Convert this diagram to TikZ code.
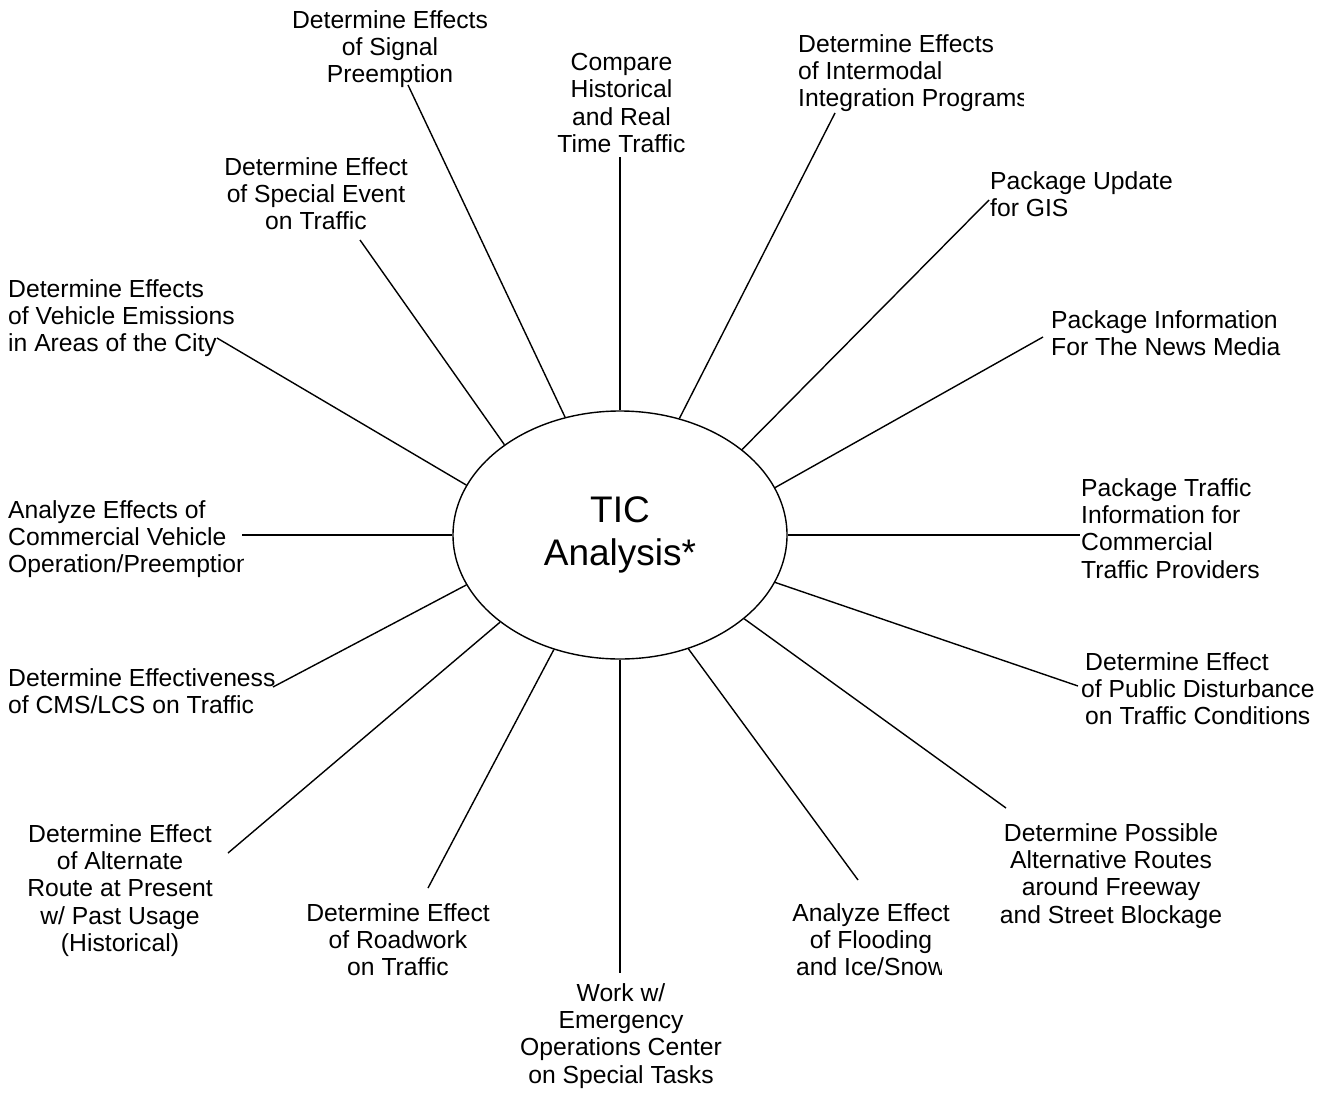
\documentclass[tikz,border=0pt]{standalone}
\usepackage{fontspec}
\setmainfont{Liberation Sans}
\usetikzlibrary{shapes.geometric}
\begin{document}
\begin{tikzpicture}[x=1pt,y=-1pt,
  lbl/.style={inner sep=0pt, font=\fontsize{24.7}{27.4}\selectfont},
  hub/.style={ellipse, draw, line width=1.4pt, minimum width=334pt,
    minimum height=248pt, inner sep=0pt, align=center,
    font=\fontsize{37}{43}\selectfont},
  spoke/.style={line width=1.4pt}]
\useasboundingbox[fill=white] (0,0) rectangle (1337,1092);

% central ellipse
\node[hub] (tic) at (620,535) {TIC\\Analysis*};

% labels around the ellipse
\begin{scope}
  \clip (250,0) -- (560,0) -- (560,62) -- (452,62) -- (452,110) -- (250,110) -- cycle;
  \node[lbl, align=center, anchor=north] (sig) at (390,10)
    {Determine Effects\\of Signal\\Preemption};
\end{scope}
\node[lbl, align=center, anchor=north] (cmp) at (621.5,53)
  {Compare\\Historical\\and Real\\Time Traffic};
\begin{scope}
  \clip (790,20) -- (1100,20) -- (1100,84) -- (1023,84) -- (1023,130) -- (790,130) -- cycle;
  \node[lbl, align=left, anchor=north west] (itm) at (798,34)
    {Determine Effects\\of Intermodal\\Integration Programs};
\end{scope}
\node[lbl, align=left, anchor=north west] (gis) at (990,171)
  {Package Update\\for GIS};
\node[lbl, align=left, anchor=north west] (news) at (1051,310)
  {Package Information\\For The News Media};
\node[lbl, align=left, anchor=north west] (pkt) at (1081,478)
  {Package Traffic\\Information for\\Commercial\\Traffic Providers};
\node[lbl, align=left, anchor=north west] (pub) at (1085,652)
  {Determine Effect\\\hspace*{-4pt}of Public Disturbance\\on Traffic Conditions};
\node[lbl, align=center, anchor=north] (alt) at (1111,823)
  {Determine Possible\\Alternative Routes\\around Freeway\\and Street Blockage};
\begin{scope}
  \clip (760,895) -- (980,895) -- (980,952) -- (941,952) -- (941,990) -- (760,990) -- cycle;
  \node[lbl, align=center, anchor=north] (fld) at (871,903)
    {Analyze Effect\\of Flooding\\and Ice/Snow};
\end{scope}
\node[lbl, align=center, anchor=north] (wrk) at (621,983)
  {Work w/\\Emergency\\Operations Center\\on Special Tasks};
\node[lbl, align=center, anchor=north] (rdw) at (398,903)
  {Determine Effect\\of Roadwork\\on Traffic};
\node[lbl, align=center, anchor=north] (alr) at (120,824)
  {Determine Effect\\of Alternate\\Route at Present\\w/ Past Usage\\(Historical)};
\node[lbl, align=left, anchor=north west] (cms) at (8,668)
  {Determine Effectiveness\\of CMS/LCS on Traffic};
\begin{scope}
  \clip (0,490) -- (300,490) -- (300,551) -- (243,551) -- (243,590) -- (0,590) -- cycle;
  \node[lbl, align=left, anchor=north west] (cvo) at (8,500)
    {Analyze Effects of\\Commercial Vehicle\\Operation/Preemption};
\end{scope}
\node[lbl, align=left, anchor=north west] (emi) at (8,279)
  {Determine Effects\\of Vehicle Emissions\\in Areas of the City};
\node[lbl, align=center, anchor=north] (spe) at (316,157)
  {Determine Effect\\of Special Event\\on Traffic};

% free ends of the spokes
\coordinate (e-sig) at (408,85);
\coordinate (e-cmp) at (620,157);
\coordinate (e-itm) at (835,113);
\coordinate (e-gis) at (989,200);
\coordinate (e-news) at (1043,337);
\coordinate (e-pkt) at (1080,535);
\coordinate (e-pub) at (1078,686);
\coordinate (e-alt) at (1006,808);
\coordinate (e-fld) at (858,880);
\coordinate (e-wrk) at (620,973);
\coordinate (e-rdw) at (428,888);
\coordinate (e-alr) at (228,853);
\coordinate (e-cms) at (273,687);
\coordinate (e-cvo) at (242,535);
\coordinate (e-emi) at (217,338);
\coordinate (e-spe) at (360,240);

% spokes
\draw[spoke] (tic.115.8) -- (e-sig);
\draw[spoke] (tic.90) -- (e-cmp);
\draw[spoke] (tic.63.8) -- (e-itm);
\draw[spoke] (tic.35.9) -- (e-gis);
\draw[spoke] (tic.17.4) -- (e-news);
\draw[spoke] (tic.0) -- (e-pkt);
\draw[spoke] (tic.-17.4) -- (e-pub);
\draw[spoke] (tic.-34.7) -- (e-alt);
\draw[spoke] (tic.-59.5) -- (e-fld);
\draw[spoke] (tic.-90) -- (e-wrk);
\draw[spoke] (tic.-120.9) -- (e-rdw);
\draw[spoke] (tic.-144.9) -- (e-alr);
\draw[spoke] (tic.-162.6) -- (e-cms);
\draw[spoke] (tic.180) -- (e-cvo);
\draw[spoke] (tic.162.8) -- (e-emi);
\draw[spoke] (tic.142.7) -- (e-spe);
\end{tikzpicture}
\end{document}
